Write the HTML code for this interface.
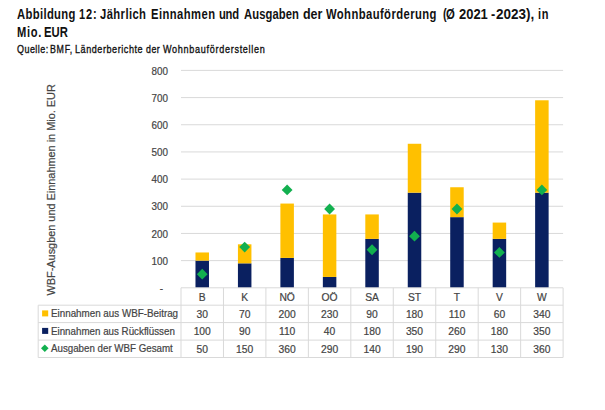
<!DOCTYPE html>
<html><head><meta charset="utf-8"><style>
html,body{margin:0;padding:0;background:#fff;width:605px;height:410px;overflow:hidden;position:relative}
body{font-family:"Liberation Sans",sans-serif}
.t{position:absolute;white-space:nowrap;font-weight:bold;font-size:14.8px;line-height:16px;color:#111;transform-origin:0 0}
.q{position:absolute;white-space:nowrap;font-size:11.4px;line-height:13px;color:#111;transform-origin:0 0;-webkit-text-stroke:0.35px #111}
svg{position:absolute;left:0;top:0}
.yl{position:absolute;left:120px;width:48px;text-align:right;font-size:10.5px;line-height:14px;color:#444444;transform-origin:100% 0;transform:scaleX(0.94);-webkit-text-stroke:0.2px #444}
.c{position:absolute;width:42.46px;height:17.4px;line-height:17.4px;text-align:center;font-size:10.3px;color:#444444;-webkit-text-stroke:0.2px #444}
.lg{position:absolute;left:50.6px;height:17.4px;line-height:17.4px;white-space:nowrap;font-size:10.3px;color:#444444;transform-origin:0 0;transform:scaleX(0.955);-webkit-text-stroke:0.2px #444}
.ya{position:absolute;left:0;top:0;white-space:nowrap;font-size:10.9px;line-height:12px;color:#444444;transform-origin:0 0;-webkit-text-stroke:0.2px #444}
</style></head><body>
<span class="t" style="left:17.05px;top:6.3px;letter-spacing:0.456px;transform:scaleX(0.7610)">Abbildung</span>
<span class="t" style="left:79.39px;top:6.3px;letter-spacing:1.092px;transform:scaleX(0.7444)">12:</span>
<span class="t" style="left:100.04px;top:6.3px;letter-spacing:0.542px;transform:scaleX(0.7594)">Jährlich</span>
<span class="t" style="left:150.71px;top:6.3px;letter-spacing:0.598px;transform:scaleX(0.7577)">Einnahmen</span>
<span class="t" style="left:219.02px;top:6.3px;letter-spacing:-0.322px;transform:scaleX(0.7581)">und</span>
<span class="t" style="left:243.66px;top:6.3px;letter-spacing:0.122px;transform:scaleX(0.7591)">Ausgaben</span>
<span class="t" style="left:302.71px;top:6.3px;letter-spacing:0.000px;transform:scaleX(0.8433)">der</span>
<span class="t" style="left:326.42px;top:6.3px;letter-spacing:0.544px;transform:scaleX(0.7607)">Wohnbauförderung</span>
<span class="t" style="left:442.65px;top:6.3px;letter-spacing:0.000px;transform:scaleX(0.7439)">(</span>
<span class="t" style="left:446.22px;top:6.3px;letter-spacing:0.000px;transform:scaleX(0.7657)">Ø</span>
<span class="t" style="left:459.07px;top:6.3px;letter-spacing:0.000px;transform:scaleX(0.8758)">2021</span>
<span class="t" style="left:491.37px;top:6.3px;letter-spacing:0.000px;transform:scaleX(0.8586)">-</span>
<span class="t" style="left:496.25px;top:6.3px;letter-spacing:0.000px;transform:scaleX(0.9110)">2023),</span>
<span class="t" style="left:537.66px;top:6.3px;letter-spacing:0.955px;transform:scaleX(0.7426)">in</span>
<span class="t" style="left:17.31px;top:24.4px;letter-spacing:0.932px;transform:scaleX(0.7505)">Mio.</span>
<span class="t" style="left:43.90px;top:24.4px;letter-spacing:0.050px;transform:scaleX(0.7617)">EUR</span>
<span class="q" style="left:16.88px;top:43.1px;letter-spacing:0.575px;transform:scaleX(0.7880)">Quelle:</span>
<span class="q" style="left:50.08px;top:43.1px;letter-spacing:0.917px;transform:scaleX(0.7750)">BMF,</span>
<span class="q" style="left:75.30px;top:43.1px;letter-spacing:0.694px;transform:scaleX(0.7951)">Länderberichte</span>
<span class="q" style="left:146.14px;top:43.1px;letter-spacing:0.662px;transform:scaleX(0.7722)">der</span>
<span class="q" style="left:163.34px;top:43.1px;letter-spacing:0.886px;transform:scaleX(0.7950)">Wohnbauförderstellen</span>
<svg width="605" height="410" viewBox="0 0 605 410">
<line x1="181" y1="260.62" x2="563.1" y2="260.62" stroke="#d9d9d9" stroke-width="1"/>
<line x1="181" y1="233.45" x2="563.1" y2="233.45" stroke="#d9d9d9" stroke-width="1"/>
<line x1="181" y1="206.28" x2="563.1" y2="206.28" stroke="#d9d9d9" stroke-width="1"/>
<line x1="181" y1="179.10" x2="563.1" y2="179.10" stroke="#d9d9d9" stroke-width="1"/>
<line x1="181" y1="151.93" x2="563.1" y2="151.93" stroke="#d9d9d9" stroke-width="1"/>
<line x1="181" y1="124.75" x2="563.1" y2="124.75" stroke="#d9d9d9" stroke-width="1"/>
<line x1="181" y1="97.58" x2="563.1" y2="97.58" stroke="#d9d9d9" stroke-width="1"/>
<line x1="181" y1="70.40" x2="563.1" y2="70.40" stroke="#d9d9d9" stroke-width="1"/>
<rect x="195.48" y="260.62" width="13.5" height="27.18" fill="#0A2060"/>
<rect x="195.48" y="252.47" width="13.5" height="8.15" fill="#FFC000"/>
<rect x="237.93" y="263.34" width="13.5" height="24.46" fill="#0A2060"/>
<rect x="237.93" y="244.32" width="13.5" height="19.02" fill="#FFC000"/>
<rect x="280.39" y="257.91" width="13.5" height="29.89" fill="#0A2060"/>
<rect x="280.39" y="203.56" width="13.5" height="54.35" fill="#FFC000"/>
<rect x="322.85" y="276.93" width="13.5" height="10.87" fill="#0A2060"/>
<rect x="322.85" y="214.43" width="13.5" height="62.50" fill="#FFC000"/>
<rect x="365.30" y="238.89" width="13.5" height="48.91" fill="#0A2060"/>
<rect x="365.30" y="214.43" width="13.5" height="24.46" fill="#FFC000"/>
<rect x="407.76" y="192.69" width="13.5" height="95.11" fill="#0A2060"/>
<rect x="407.76" y="143.77" width="13.5" height="48.91" fill="#FFC000"/>
<rect x="450.21" y="217.15" width="13.5" height="70.66" fill="#0A2060"/>
<rect x="450.21" y="187.25" width="13.5" height="29.89" fill="#FFC000"/>
<rect x="492.67" y="238.89" width="13.5" height="48.91" fill="#0A2060"/>
<rect x="492.67" y="222.58" width="13.5" height="16.31" fill="#FFC000"/>
<rect x="535.13" y="192.69" width="13.5" height="95.11" fill="#0A2060"/>
<rect x="535.13" y="100.29" width="13.5" height="92.39" fill="#FFC000"/>
<line x1="181" y1="287.8" x2="563.1" y2="287.8" stroke="#d9d9d9" stroke-width="1"/>
<line x1="38.2" y1="305.2" x2="563.1" y2="305.2" stroke="#d9d9d9" stroke-width="1"/>
<line x1="38.2" y1="322.6" x2="563.1" y2="322.6" stroke="#d9d9d9" stroke-width="1"/>
<line x1="38.2" y1="340.1" x2="563.1" y2="340.1" stroke="#d9d9d9" stroke-width="1"/>
<line x1="38.2" y1="357.5" x2="563.1" y2="357.5" stroke="#d9d9d9" stroke-width="1"/>
<line x1="181.00" y1="287.8" x2="181.00" y2="357.5" stroke="#d9d9d9" stroke-width="1"/>
<line x1="223.46" y1="287.8" x2="223.46" y2="357.5" stroke="#d9d9d9" stroke-width="1"/>
<line x1="265.91" y1="287.8" x2="265.91" y2="357.5" stroke="#d9d9d9" stroke-width="1"/>
<line x1="308.37" y1="287.8" x2="308.37" y2="357.5" stroke="#d9d9d9" stroke-width="1"/>
<line x1="350.82" y1="287.8" x2="350.82" y2="357.5" stroke="#d9d9d9" stroke-width="1"/>
<line x1="393.28" y1="287.8" x2="393.28" y2="357.5" stroke="#d9d9d9" stroke-width="1"/>
<line x1="435.74" y1="287.8" x2="435.74" y2="357.5" stroke="#d9d9d9" stroke-width="1"/>
<line x1="478.19" y1="287.8" x2="478.19" y2="357.5" stroke="#d9d9d9" stroke-width="1"/>
<line x1="520.65" y1="287.8" x2="520.65" y2="357.5" stroke="#d9d9d9" stroke-width="1"/>
<line x1="563.10" y1="287.8" x2="563.10" y2="357.5" stroke="#d9d9d9" stroke-width="1"/>
<line x1="38.2" y1="305.2" x2="38.2" y2="357.5" stroke="#d9d9d9" stroke-width="1"/>
<path d="M202.23 268.81 L207.63 274.21 L202.23 279.61 L196.83 274.21Z" fill="#12B04F"/>
<path d="M244.68 241.64 L250.08 247.04 L244.68 252.44 L239.28 247.04Z" fill="#12B04F"/>
<path d="M287.14 184.57 L292.54 189.97 L287.14 195.37 L281.74 189.97Z" fill="#12B04F"/>
<path d="M329.60 203.59 L335.00 208.99 L329.60 214.39 L324.20 208.99Z" fill="#12B04F"/>
<path d="M372.05 244.35 L377.45 249.75 L372.05 255.16 L366.65 249.75Z" fill="#12B04F"/>
<path d="M414.51 230.77 L419.91 236.17 L414.51 241.57 L409.11 236.17Z" fill="#12B04F"/>
<path d="M456.96 203.59 L462.36 208.99 L456.96 214.39 L451.56 208.99Z" fill="#12B04F"/>
<path d="M499.42 247.07 L504.82 252.47 L499.42 257.87 L494.02 252.47Z" fill="#12B04F"/>
<path d="M541.88 184.57 L547.28 189.97 L541.88 195.37 L536.48 189.97Z" fill="#12B04F"/>
<rect x="42.1" y="310.4" width="6.1" height="6" fill="#FFC000"/>
<rect x="42.1" y="327.9" width="6.1" height="6" fill="#0A2060"/>
<path d="M44.8 344.5 L48.6 348.25 L44.8 352.0 L41.0 348.25Z" fill="#12B04F"/>
</svg>
<div class="yl" style="top:281.00px;left:115px">-</div>
<div class="yl" style="top:253.82px">100</div>
<div class="yl" style="top:226.65px">200</div>
<div class="yl" style="top:199.48px">300</div>
<div class="yl" style="top:172.30px">400</div>
<div class="yl" style="top:145.12px">500</div>
<div class="yl" style="top:117.95px">600</div>
<div class="yl" style="top:90.78px">700</div>
<div class="yl" style="top:63.60px">800</div>
<div class="c" style="left:181.00px;top:288.50px">B</div>
<div class="c" style="left:223.46px;top:288.50px">K</div>
<div class="c" style="left:265.91px;top:288.50px">NÖ</div>
<div class="c" style="left:308.37px;top:288.50px">OÖ</div>
<div class="c" style="left:350.82px;top:288.50px">SA</div>
<div class="c" style="left:393.28px;top:288.50px">ST</div>
<div class="c" style="left:435.74px;top:288.50px">T</div>
<div class="c" style="left:478.19px;top:288.50px">V</div>
<div class="c" style="left:520.65px;top:288.50px">W</div>
<div class="c" style="left:181.00px;top:305.80px">30</div>
<div class="c" style="left:223.46px;top:305.80px">70</div>
<div class="c" style="left:265.91px;top:305.80px">200</div>
<div class="c" style="left:308.37px;top:305.80px">230</div>
<div class="c" style="left:350.82px;top:305.80px">90</div>
<div class="c" style="left:393.28px;top:305.80px">180</div>
<div class="c" style="left:435.74px;top:305.80px">110</div>
<div class="c" style="left:478.19px;top:305.80px">60</div>
<div class="c" style="left:520.65px;top:305.80px">340</div>
<div class="c" style="left:181.00px;top:323.20px">100</div>
<div class="c" style="left:223.46px;top:323.20px">90</div>
<div class="c" style="left:265.91px;top:323.20px">110</div>
<div class="c" style="left:308.37px;top:323.20px">40</div>
<div class="c" style="left:350.82px;top:323.20px">180</div>
<div class="c" style="left:393.28px;top:323.20px">350</div>
<div class="c" style="left:435.74px;top:323.20px">260</div>
<div class="c" style="left:478.19px;top:323.20px">180</div>
<div class="c" style="left:520.65px;top:323.20px">350</div>
<div class="c" style="left:181.00px;top:340.70px">50</div>
<div class="c" style="left:223.46px;top:340.70px">150</div>
<div class="c" style="left:265.91px;top:340.70px">360</div>
<div class="c" style="left:308.37px;top:340.70px">290</div>
<div class="c" style="left:350.82px;top:340.70px">140</div>
<div class="c" style="left:393.28px;top:340.70px">190</div>
<div class="c" style="left:435.74px;top:340.70px">290</div>
<div class="c" style="left:478.19px;top:340.70px">130</div>
<div class="c" style="left:520.65px;top:340.70px">360</div>
<div class="lg" style="top:305.10px;left:50.6px;transform:scaleX(0.953)">Einnahmen aus WBF-Beitrag</div>
<div class="lg" style="top:322.50px;left:50.6px;transform:scaleX(0.949)">Einnahmen aus Rückflüssen</div>
<div class="lg" style="top:340.00px;left:50.6px;transform:scaleX(0.946)">Ausgaben der WBF Gesamt</div>
<div class="ya" style="transform:translate(45px,295.5px) rotate(-90deg)">WBF-Ausgben und Einnahmen in Mio. EUR</div>
</body></html>
